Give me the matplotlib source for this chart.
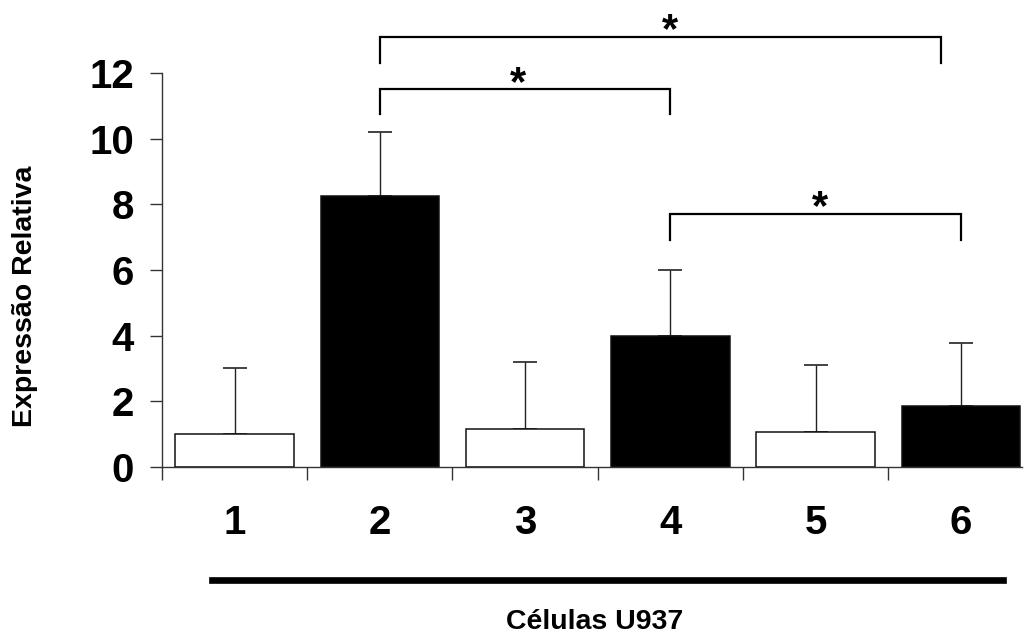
import numpy as np
import matplotlib.pyplot as plt
from matplotlib.lines import Line2D

plt.rcParams['font.family'] = ['Liberation Sans', 'DejaVu Sans']
plt.rcParams['font.weight'] = 'bold'

# data
groups = ['1', '2', '3', '4', '5', '6']
means = [1.0, 8.25, 1.15, 4.0, 1.07, 1.86]
errors = [2.0, 1.95, 2.05, 2.0, 2.03, 1.92]
fills = ['white', 'black', 'white', 'black', 'white', 'black']

# significance brackets: (left end, right end, bracket height, leg bottom, star x)
brackets = [(2, 5.86, 13.1, 12.3, 4.0),
            (2, 4, 11.5, 10.75, 2.95),
            (4, 6, 7.72, 6.9, 5.03)]

fig = plt.figure(figsize=(10.25, 6.42), dpi=100)
ax = fig.add_axes([0.158, 0.2726, 0.839, 0.6137])

x = np.arange(1, len(groups) + 1)
ax.bar(x, means, width=0.815, color=fills, edgecolor='#111111', linewidth=1.1, zorder=2)
ax.errorbar(x, means, yerr=[np.zeros(len(errors)), errors], fmt='none',
            ecolor='#222222', elinewidth=1.0, capsize=8.3, capthick=1.2, zorder=1)

ax.set_xlim(0.5, 6.42)
ax.set_ylim(0, 12)
ax.set_yticks(range(0, 13, 2))
ax.tick_params(axis='y', labelsize=29, length=9, width=1.0, color='#333333', pad=11)

# boundary ticks as major ticks, labels as minor ticks
ax.set_xticks(np.arange(0.5, 6.0, 1.0))
ax.set_xticklabels([])
ax.set_xticks(x, minor=True)
ax.set_xticklabels(groups, minor=True)
ax.tick_params(axis='x', which='major', length=9, width=1.0, color='#333333')
ax.tick_params(axis='x', which='minor', length=0, labelsize=29, pad=27)
for lab in ax.get_yticklabels() + ax.get_xticklabels(minor=True):
    lab.set_fontweight('bold')

for side in ['top', 'right']:
    ax.spines[side].set_visible(False)
for side in ['left', 'bottom']:
    ax.spines[side].set_color('#333333')
    ax.spines[side].set_linewidth(1.0)

for a, b, top, leg, sx in brackets:
    ax.plot([a, a, b, b], [leg, top, top, leg], color='black', lw=1.6,
            clip_on=False, solid_joinstyle='miter')
    ax.annotate('*', xy=(sx, top), xytext=(0, -4), textcoords='offset points',
                ha='center', va='baseline', fontsize=30, fontweight='bold',
                annotation_clip=False)

fig.text(0.0244, 0.539, 'Expressão Relativa', rotation=90, ha='center', va='center',
         fontsize=20.5, fontweight='bold')
fig.add_artist(Line2D([212 / 1025, 1003 / 1025], [1 - 580 / 642, 1 - 580 / 642],
                      color='black', lw=4.8))
fig.text(0.58, 1 - 622 / 642, 'Células U937', ha='center', va='center',
         fontsize=20.5, fontweight='bold')

fig.savefig('out.png', dpi=100)
